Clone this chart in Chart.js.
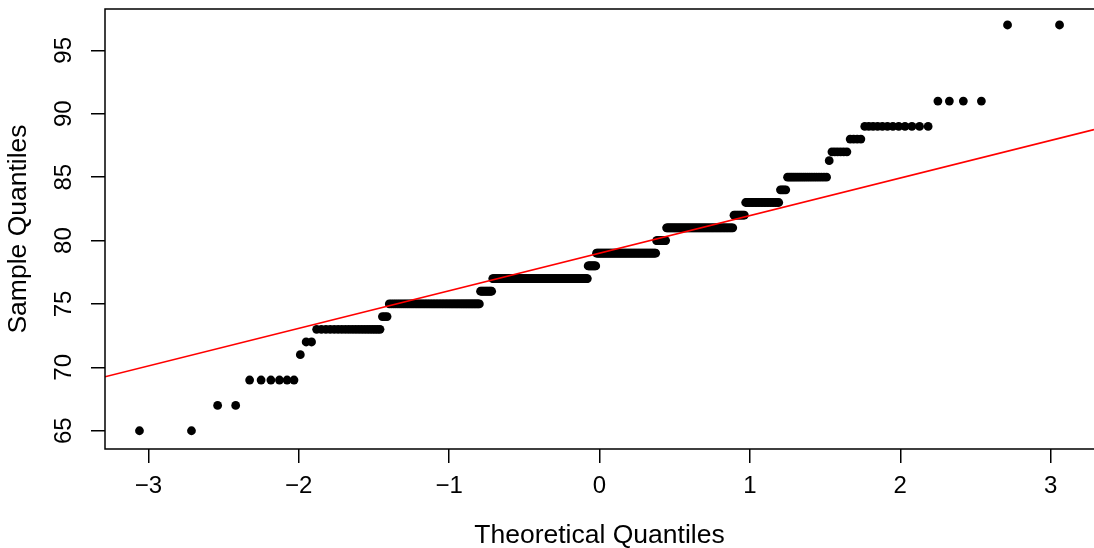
<!DOCTYPE html>
<html>
<head>
<meta charset="utf-8">
<script src="https://cdn.jsdelivr.net/npm/chart.js@4"></script>
<style>
  html, body { margin: 0; padding: 0; background: #fff; }
  canvas { display: block; }
</style>
</head>
<body>
<canvas id="qqChart" width="1094" height="548"></canvas>
<script>
// sample values (sorted) and how many times each one occurs
const sampleValues = [65, 67, 69, 71, 72, 73, 74, 75, 76, 77, 78, 79, 80, 81, 82, 83, 84, 85, 86.3, 87, 88, 89, 91, 97];
const sampleCounts = [2, 2, 6, 1, 2, 20, 3, 60, 11, 104, 10, 70, 11, 64, 9, 23, 4, 19, 1, 6, 4, 12, 4, 2];

const xTicks = [-3, -2, -1, 0, 1, 2, 3];
const yTicks = [65, 70, 75, 80, 85, 90, 95];
const xTitle = 'Theoretical Quantiles';
const yTitle = 'Sample Quantiles';

const FONT = '"Liberation Sans", Arial, Helvetica, sans-serif';

// inverse normal cdf (Acklam)
function qnorm(p) {
  const a = [-3.969683028665376e+01, 2.209460984245205e+02, -2.759285104469687e+02, 1.383577518672690e+02, -3.066479806614716e+01, 2.506628277459239e+00];
  const b = [-5.447609879822406e+01, 1.615858368580409e+02, -1.556989798598866e+02, 6.680131188771972e+01, -1.328068155288572e+01];
  const c = [-7.784894002430293e-03, -3.223964580411365e-01, -2.400758277161838e+00, -2.549732539343734e+00, 4.374664141464968e+00, 2.938163982698783e+00];
  const d = [7.784695709041462e-03, 3.224671290700398e-01, 2.445134137142996e+00, 3.754408661907416e+00];
  const plow = 0.02425, phigh = 1 - plow;
  let q, r;
  if (p < plow) {
    q = Math.sqrt(-2 * Math.log(p));
    return (((((c[0]*q+c[1])*q+c[2])*q+c[3])*q+c[4])*q+c[5]) / ((((d[0]*q+d[1])*q+d[2])*q+d[3])*q+1);
  }
  if (p > phigh) {
    q = Math.sqrt(-2 * Math.log(1 - p));
    return -(((((c[0]*q+c[1])*q+c[2])*q+c[3])*q+c[4])*q+c[5]) / ((((d[0]*q+d[1])*q+d[2])*q+d[3])*q+1);
  }
  q = p - 0.5;
  r = q * q;
  return (((((a[0]*r+a[1])*r+a[2])*r+a[3])*r+a[4])*r+a[5])*q / (((((b[0]*r+b[1])*r+b[2])*r+b[3])*r+b[4])*r+1);
}

// expand to the sorted sample
const sample = [];
sampleValues.forEach((v, k) => {
  for (let j = 0; j < sampleCounts[k]; j++) sample.push(v);
});
const n = sample.length;

// qqnorm points: ppoints(n) = (i - 0.5) / n
const qqPoints = sample.map((v, i) => ({ x: qnorm((i + 0.5) / n), y: v }));

// qqline through the quartiles (type 7 quantiles)
function quantile(arr, p) {
  const h = (arr.length - 1) * p;
  const lo = Math.floor(h);
  const hi = Math.min(lo + 1, arr.length - 1);
  return arr[lo] + (h - lo) * (arr[hi] - arr[lo]);
}
const q1 = quantile(sample, 0.25), q3 = quantile(sample, 0.75);
const z1 = qnorm(0.25), z3 = qnorm(0.75);
const slope = (q3 - q1) / (z3 - z1);
const intercept = q1 - slope * z1;

const xMin = -3.288, xMax = 3.288;
const yMin = 63.56, yMax = 98.26;

const linePoints = [
  { x: xMin, y: intercept + slope * xMin },
  { x: xMax, y: intercept + slope * xMax }
];

const framePlugin = {
  id: 'frame',
  afterDraw(chart) {
    const { ctx, chartArea } = chart;
    ctx.save();
    ctx.strokeStyle = '#000';
    ctx.lineWidth = 1.5;
    // box runs off the right edge of the picture, so no right side
    ctx.beginPath();
    ctx.moveTo(chart.width + 2, chartArea.top);
    ctx.lineTo(chartArea.left, chartArea.top);
    ctx.lineTo(chartArea.left, chartArea.bottom);
    ctx.lineTo(chart.width + 2, chartArea.bottom);
    ctx.stroke();

    // y tick labels, rotated like R does it
    const ys = chart.scales.y;
    ctx.fillStyle = '#000';
    ctx.font = '24px ' + FONT;
    ctx.textAlign = 'center';
    ctx.textBaseline = 'middle';
    yTicks.forEach(v => {
      ctx.save();
      ctx.translate(64, ys.getPixelForValue(v));
      ctx.rotate(-Math.PI / 2);
      ctx.fillText(String(v), 0, 0);
      ctx.restore();
    });
    ctx.restore();
  }
};

new Chart(document.getElementById('qqChart'), {
  type: 'scatter',
  data: {
    datasets: [
      {
        type: 'line',
        label: 'qqline',
        data: linePoints,
        borderColor: '#ff0000',
        borderWidth: 1.6,
        pointRadius: 0,
        fill: false,
        order: 0
      },
      {
        label: 'sample',
        data: qqPoints,
        backgroundColor: '#000',
        borderColor: '#000',
        borderWidth: 0,
        pointRadius: 4.4,
        order: 1
      }
    ]
  },
  options: {
    responsive: false,
    animation: false,
    layout: { autoPadding: false, padding: { top: 9, right: 0, left: 0, bottom: 0 } },
    plugins: {
      legend: { display: false },
      tooltip: { enabled: false }
    },
    scales: {
      x: {
        type: 'linear',
        min: xMin,
        max: xMax,
        afterBuildTicks: (scale) => { scale.ticks = xTicks.map(v => ({ value: v })); },
        afterFit: (scale) => { scale.height = 99; },
        ticks: {
          color: '#000',
          font: { family: FONT, size: 24 },
          padding: 9,
          maxRotation: 0,
          autoSkip: false,
          callback: (v) => (v < 0 ? '\u2212' + Math.abs(v) : String(v))
        },
        grid: { drawOnChartArea: false, drawTicks: true, tickLength: 14, color: '#000', lineWidth: 1.5 },
        border: { display: false },
        title: {
          display: true,
          text: xTitle,
          color: '#000',
          font: { family: FONT, size: 26.5, lineHeight: 0.9 },
          padding: { top: 0, bottom: 0 }
        }
      },
      y: {
        type: 'linear',
        min: yMin,
        max: yMax,
        afterBuildTicks: (scale) => { scale.ticks = yTicks.map(v => ({ value: v })); },
        afterFit: (scale) => { scale.width = 105; },
        ticks: { display: false },
        grid: { drawOnChartArea: false, drawTicks: true, tickLength: 14, color: '#000', lineWidth: 1.5 },
        border: { display: false },
        title: {
          display: true,
          text: yTitle,
          color: '#000',
          font: { family: FONT, size: 26.5, lineHeight: 1 },
          padding: { top: 5, bottom: 0 }
        }
      }
    }
  },
  plugins: [framePlugin]
});
</script>
</body>
</html>
